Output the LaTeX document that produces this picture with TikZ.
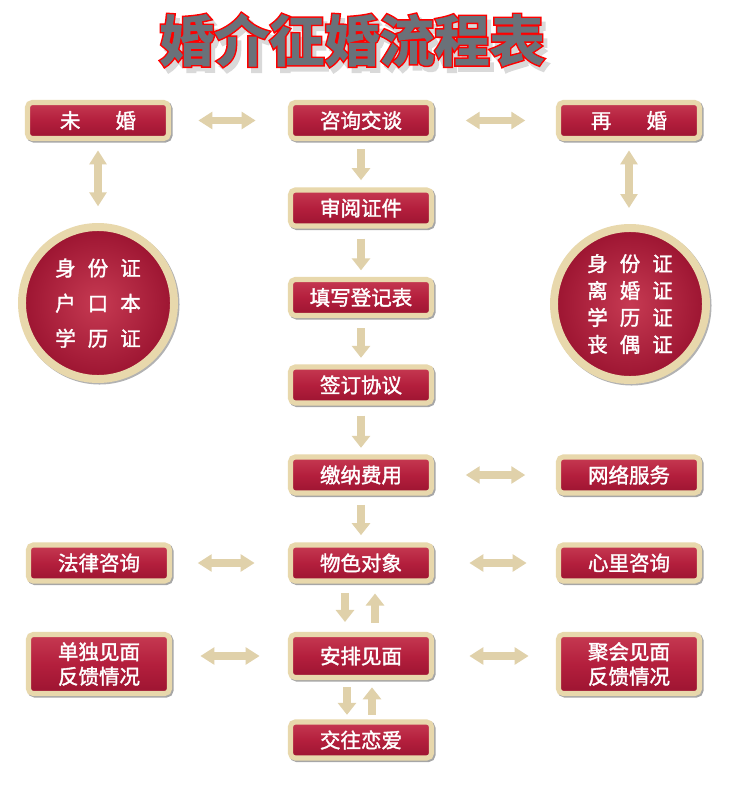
\documentclass[tikz,border=0pt]{standalone}
\usepackage{fontspec}
\newfontfamily\cjk{Noto Sans CJK SC}[FakeBold=1.6]
\newfontfamily\titlered{Noto Sans CJK SC Bold}[FakeBold=7]
\newfontfamily\titlemain{Noto Sans CJK SC Bold}[FakeBold=1.5]
\usetikzlibrary{arrows.meta,shadows}
\definecolor{tanb}{HTML}{E8D8AC}
\definecolor{tanarrow}{HTML}{E0D1AA}
\definecolor{crim}{HTML}{B41F3D}
\definecolor{crimlight}{HTML}{C63A52}
\definecolor{crimdark}{HTML}{9C1431}
\definecolor{titlegray}{HTML}{6A7179}
\begin{document}
\begin{tikzpicture}[x=0.03cm,y=-0.03cm,
  box/.style={draw=tanb, line width=4.3pt, rounded corners=4pt,
    top color=crimlight, bottom color=crimdark, middle color=crim,
    text=white, font=\cjk\fontsize{17.5}{21}\selectfont, align=center,
    inner sep=0pt, minimum width=4.23cm, minimum height=1.08cm,
    drop shadow={shadow xshift=1.3pt, shadow yshift=-1.3pt, opacity=0.35, draw=black, line width=4.3pt}},
  tallbox/.style={box, minimum height=1.77cm},
  disc/.style={circle, draw=tanb, line width=6.8pt, inner color=crimlight, outer color=crimdark,
    text=white, font=\cjk\fontsize{17.5}{21}\selectfont, align=center,
    inner sep=0pt, minimum size=4.56cm,
    drop shadow={shadow xshift=1.3pt, shadow yshift=-1.3pt, opacity=0.3, draw=black, line width=6.8pt}},
  titletext/.style={inner sep=0pt},
  harr/.style={draw=tanarrow, line width=6.8pt,
    {Triangle[width=0.5cm,length=0.42cm]}-{Triangle[width=0.5cm,length=0.42cm]}},
  darr/.style={draw=tanarrow, line width=6.8pt, -{Triangle[width=0.54cm,length=0.36cm]}}
]
\useasboundingbox[fill=white] (0,0) rectangle (737,786);

% title
\node[titletext, text=black!15, font=\titlered\fontsize{47}{50}\selectfont] (tshadow) at (356,45) {婚介征婚流程表};
\node[titletext, text=red, font=\titlered\fontsize{47}{50}\selectfont] (tred) at (352,40) {婚介征婚流程表};
\node[titletext, text=titlegray, font=\titlemain\fontsize{47}{50}\selectfont] (title) at (352,40) {婚介征婚流程表};

% central column
\node[box] (zixun) at (361,120.5) {咨询交谈};
\node[box] (shenyue) at (361,208) {审阅证件};
\node[box] (tianxie) at (361,297.5) {填写登记表};
\node[box] (qianding) at (361,385) {签订协议};
\node[box] (jiaona) at (361,475) {缴纳费用};
\node[box] (wuse) at (361,563) {物色对象};
\node[box, minimum height=1.29cm] (anpai) at (361,656) {安排见面};
\node[box] (jiaowang) at (361,740) {交往恋爱};

% left column
\node[box] (weihun) at (98,120.5) {未\hspace{1.05cm}婚};
\node[disc] (lc) at (98,303) {\\[-6pt]身\hspace{0.36cm}份\hspace{0.36cm}证\\[9pt]户\hspace{0.36cm}口\hspace{0.36cm}本\\[9pt]学\hspace{0.36cm}历\hspace{0.36cm}证};
\node[box] (falv) at (99,563) {法律咨询};
\node[tallbox] (dandu) at (99,664) {单独见面\\反馈情况};

% right column
\node[box] (zaihun) at (629,120.5) {再\hspace{1.05cm}婚};
\node[disc] (rc) at (630,304) {身\hspace{0.36cm}份\hspace{0.36cm}证\\[2pt]离\hspace{0.36cm}婚\hspace{0.36cm}证\\[2pt]学\hspace{0.36cm}历\hspace{0.36cm}证\\[2pt]丧\hspace{0.36cm}偶\hspace{0.36cm}证};
\node[box] (wangluo) at (629,475) {网络服务};
\node[box] (xinli) at (629,563) {心里咨询};
\node[tallbox] (juhui) at (629,664) {聚会见面\\反馈情况};

% horizontal double arrows
\draw[harr, shorten <=0.82cm, shorten >=0.97cm] (weihun) -- (zixun);
\draw[harr, shorten <=0.95cm, shorten >=0.92cm] (zixun) -- (zaihun);
\draw[harr, shorten <=0.95cm, shorten >=0.92cm] (jiaona) -- (wangluo);
\draw[harr, shorten <=0.77cm, shorten >=1.0cm] (falv) -- (wuse);
\draw[harr, shorten <=1.06cm, shorten >=0.88cm] (wuse) -- (xinli);
\draw[harr, shorten <=0.85cm, shorten >=0.85cm] (anpai.west) -- (anpai.west -| dandu.east);
\draw[harr, shorten <=1.06cm, shorten >=0.82cm] (anpai.east) -- (anpai.east -| juhui.west);

% vertical double arrows
\draw[harr, shorten <=0.28cm, shorten >=0.5cm] (weihun) -- (lc);
\draw[harr, shorten <=0.28cm, shorten >=0.48cm] (zaihun.south) -- (zaihun.south |- rc.north);

% central flow
\draw[darr, shorten <=0.25cm, shorten >=0.22cm] (zixun) -- (shenyue);
\draw[darr, shorten <=0.3cm, shorten >=0.2cm] (shenyue) -- (tianxie);
\draw[darr, shorten <=0.3cm, shorten >=0.2cm] (tianxie) -- (qianding);
\draw[darr, shorten <=0.3cm, shorten >=0.2cm] (qianding) -- (jiaona);
\draw[darr, shorten <=0.28cm, shorten >=0.22cm] (jiaona) -- (wuse);
\draw[darr, shorten <=0.28cm, shorten >=0.3cm] ([xshift=-0.48cm]wuse.south) -- ([xshift=-0.48cm]anpai.north);
\draw[darr, shorten <=0.28cm, shorten >=0.3cm] ([xshift=0.42cm]anpai.north) -- ([xshift=0.42cm]wuse.south);
\draw[darr, shorten <=0.22cm, shorten >=0.14cm] ([xshift=-0.42cm]anpai.south) -- ([xshift=-0.42cm]jiaowang.north);
\draw[darr, shorten <=0.14cm, shorten >=0.22cm] ([xshift=0.33cm]jiaowang.north) -- ([xshift=0.33cm]anpai.south);
\end{tikzpicture}
\end{document}
